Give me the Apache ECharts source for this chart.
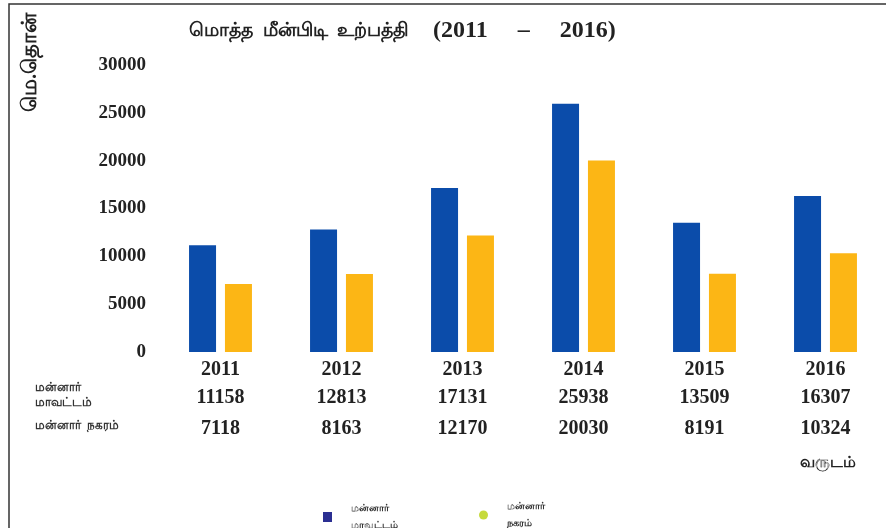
<!DOCTYPE html>
<html>
<head>
<meta charset="utf-8">
<script src="https://cdn.jsdelivr.net/npm/echarts@6/dist/echarts.min.js"></script>
<style>
  html, body { margin: 0; padding: 0; background: #fff; }
  #main { width: 886px; height: 528px; }
</style>
</head>
<body>
<div id="main"></div>
<script>
var years = ['2011', '2012', '2013', '2014', '2015', '2016'];
var district = [11158, 12813, 17131, 25938, 13509, 16307];
var town = [7118, 8163, 12170, 20030, 8191, 10324];
var yTicks = [0, 5000, 10000, 15000, 20000, 25000, 30000];

var districtName = 'மன்னார்\nமாவட்டம்';
var townName = 'மன்னார்\nநகரம்';

var serif = '"Liberation Serif", "DejaVu Serif", serif';
var myChart = echarts.init(document.getElementById('main'));

var numLabel = { margin: 8, fontSize: 20, fontWeight: 'bold', fontFamily: serif, color: '#222' };

function rowAxis(values, offset) {
    return {
        type: 'category',
        gridIndex: 0,
        position: 'bottom',
        offset: offset,
        data: values.map(String),
        axisLine: { show: false },
        axisTick: { show: false },
        axisLabel: numLabel
    };
}

var option = {
    backgroundColor: '#fff',
    animation: false,
    title: {
        text: '{t|மொத்த  மீன்பிடி  உற்பத்தி}{n|    (2011     –     2016)}',
        left: 184,
        top: 14,
        textStyle: {
            rich: {
                t: { fontSize: 19, fontWeight: 'bold', color: '#222', fontFamily: serif },
                n: { fontSize: 24, fontWeight: 'bold', color: '#222', fontFamily: serif }
            }
        }
    },
    legend: [
        {
            data: [{ name: districtName, icon: 'rect', itemStyle: { color: '#2b2f92' } }],
            left: 318, top: 495,
            itemWidth: 9, itemHeight: 10,
            textStyle: { fontSize: 10, fontWeight: 'bold', lineHeight: 17, color: '#333',
                fontFamily: serif, padding: [0, 0, 0, 14] }
        },
        {
            data: [{ name: townName, icon: 'circle', itemStyle: { color: '#c6da3c' } }],
            left: 474, top: 493,
            itemWidth: 9, itemHeight: 9,
            textStyle: { fontSize: 10, fontWeight: 'bold', lineHeight: 17, color: '#333',
                fontFamily: serif, padding: [0, 0, 0, 14] }
        }
    ],
    grid: { left: 160, top: 65, width: 729, height: 287 },
    xAxis: [
        {
            type: 'category',
            data: years,
            axisLine: { show: false },
            axisTick: { show: false },
            axisLabel: numLabel
        },
        rowAxis(district, 28),
        rowAxis(town, 59)
    ],
    yAxis: {
        type: 'value',
        min: 0,
        max: 30000,
        interval: 5000,
        splitLine: { show: false },
        axisLine: { show: false },
        axisTick: { show: false },
        axisLabel: { margin: 14, fontSize: 19, fontWeight: 'bold', fontFamily: serif, color: '#222',
            formatter: function (v) { return yTicks.indexOf(v) >= 0 ? String(v) : ''; } }
    },
    series: [
        {
            name: districtName,
            type: 'bar',
            data: district,
            barWidth: 27,
            barGap: '33%',
            itemStyle: { color: '#0b4caa' }
        },
        {
            name: townName,
            type: 'bar',
            data: town,
            barWidth: 27,
            itemStyle: { color: '#fcb615' }
        }
    ],
    graphic: [
        {
            type: 'rect',
            shape: { x: 9, y: 4, width: 890, height: 540 },
            style: { fill: 'none', stroke: '#333', lineWidth: 1.5 },
            silent: true
        },
        {
            type: 'text',
            x: 20, y: 112,
            rotation: Math.PI / 2,
            style: { text: 'மெ.தொன்', fontSize: 21, fontWeight: 'bold', fill: '#222', fontFamily: serif }
        },
        {
            type: 'text',
            x: 35, y: 380,
            style: { text: 'மன்னார்\nமாவட்டம்', fontSize: 12, fontWeight: 'bold', lineHeight: 15,
                fill: '#333', fontFamily: serif }
        },
        {
            type: 'text',
            x: 35, y: 420,
            style: { text: 'மன்னார்  நகரம்', fontSize: 12, fontWeight: 'bold', fill: '#333', fontFamily: serif }
        },
        {
            type: 'text',
            x: 800, y: 455,
            style: { text: 'வருடம்', fontSize: 16, fontWeight: 'bold', fill: '#222', fontFamily: serif }
        }
    ]
};

myChart.setOption(option);
</script>
</body>
</html>
